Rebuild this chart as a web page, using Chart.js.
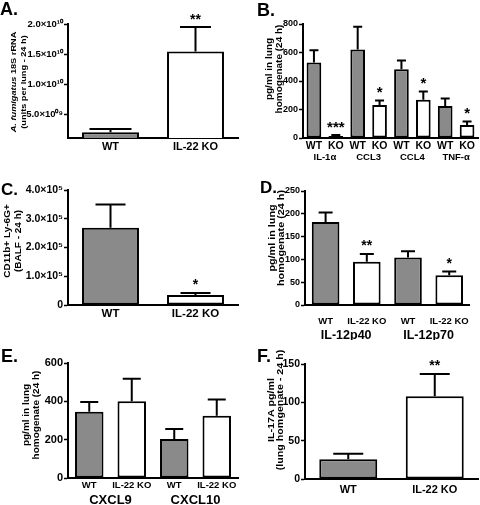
<!DOCTYPE html>
<html>
<head>
<meta charset="utf-8">
<script src="https://cdn.jsdelivr.net/npm/chart.js@4"></script>
<style>
  body { margin: 0; background: #fff; }
  #wrap { position: relative; width: 480px; height: 505px; overflow: hidden; font-family: "Liberation Sans", Arial, sans-serif; }
  canvas { position: absolute; }
  .lbl { position: absolute; font-weight: bold; line-height: 1; color: #000; }
</style>
</head>
<body>
<div id="wrap">
  <canvas id="cA" width="240" height="170" style="left:0;top:0"></canvas>
  <canvas id="cB" width="240" height="170" style="left:240px;top:0"></canvas>
  <canvas id="cC" width="240" height="170" style="left:0;top:170px"></canvas>
  <canvas id="cD" width="240" height="170" style="left:240px;top:170px"></canvas>
  <canvas id="cE" width="240" height="165" style="left:0;top:340px"></canvas>
  <canvas id="cF" width="240" height="165" style="left:240px;top:340px"></canvas>
  <div class="lbl" style="left:0;top:0;font-size:18px">A.</div>
  <div class="lbl" style="left:257px;top:1px;font-size:18px">B.</div>
  <div class="lbl" style="left:1px;top:181px;font-size:17px">C.</div>
  <div class="lbl" style="left:260px;top:179px;font-size:17px">D.</div>
  <div class="lbl" style="left:1px;top:347px;font-size:18px">E.</div>
  <div class="lbl" style="left:257px;top:347px;font-size:18px">F.</div>
</div>
<script>
const NARROW = '"Liberation Sans Narrow", "Arial Narrow", "Liberation Sans", Arial, sans-serif';
const WIDE = '"Liberation Sans", Arial, sans-serif';
Chart.defaults.font.family = NARROW;
Chart.defaults.color = "#000";

// A. fungal burden
const aCats = ["WT", "IL-22 KO"];
const aMeans = [1.95e9, 1.54e10];
const aErr = [0.55e9, 0.41e10];
const aSig = ["", "**"];
const aTickVals = [5e9, 1e10, 1.5e10, 2e10];
const aTickLabels = ["5.0×10⁰⁹", "1.0×10¹⁰", "1.5×10¹⁰", "2.0×10¹⁰"];

// B. cytokines / chemokines
const bCats = ["WT", "KO", "WT", "KO", "WT", "KO", "WT", "KO"];
const bGroups = ["IL-1α", "CCL3", "CCL4", "TNF-α"];
const bMeans = [529, 14, 621, 231, 482, 268, 224, 92];
const bErr = [87, 7, 160, 33, 62, 59, 54, 23];
const bSig = ["", "***", "", "*", "", "*", "", "*"];
const bTickVals = [0, 200, 400, 600, 800];
const bTickLabels = ["0", "200", "400", "600", "800"];

// C. neutrophils in BALF
const cCats = ["WT", "IL-22 KO"];
const cMeans = [2.69e5, 0.35e5];
const cErr = [0.81e5, 0.07e5];
const cSig = ["", "*"];
const cTickVals = [0, 1e5, 2e5, 3e5, 4e5];
const cTickLabels = ["0", "1.0×10⁵", "2.0×10⁵", "3.0×10⁵", "4.0×10⁵"];

// D. IL-12
const dCats = ["WT", "IL-22 KO", "WT", "IL-22 KO"];
const dGroups = ["IL-12p40", "IL-12p70"];
const dMeans = [182, 95, 104, 65];
const dErr = [21, 17, 14, 8.5];
const dSig = ["", "**", "", "*"];
const dTickVals = [0, 50, 100, 150, 200, 250];
const dTickLabels = ["0", "50", "100", "150", "200", "250"];

// E. CXCL9 / CXCL10
const eCats = ["WT", "IL-22 KO", "WT", "IL-22 KO"];
const eGroups = ["CXCL9", "CXCL10"];
const eMeans = [346, 400, 203, 325];
const eErr = [51, 118, 53, 84];
const eSig = ["", "", "", ""];
const eTickVals = [0, 200, 400, 600];
const eTickLabels = ["0", "200", "400", "600"];

// F. IL-17A
const fCats = ["WT", "IL-22 KO"];
const fMeans = [25.6, 108];
const fErr = [7.4, 29];
const fSig = ["", "**"];
const fTickVals = [0, 50, 100, 150];
const fTickLabels = ["0", "50", "100", "150"];

const GREY = "#8a8a8a";

// error bars, stars, group labels and the y title
const extras = {
  id: "extras",
  afterDatasetsDraw(chart, args, o) {
    const ctx = chart.ctx;
    const ys = chart.scales.y;
    const xs = chart.scales.x;
    const data = chart.data.datasets[0].data;
    ctx.save();
    ctx.strokeStyle = "#000";
    ctx.fillStyle = "#000";
    ctx.lineWidth = 2;
    chart.getDatasetMeta(0).data.forEach((bar, i) => {
      const base = ys.getPixelForValue(data[i]);
      const top = ys.getPixelForValue(data[i] + o.err[i]);
      const cw = Array.isArray(o.cap) ? o.cap[i] : o.cap;
      ctx.beginPath();
      ctx.moveTo(bar.x, base);
      ctx.lineTo(bar.x, top);
      ctx.moveTo(bar.x - cw / 2, top);
      ctx.lineTo(bar.x + cw / 2, top);
      ctx.stroke();
      if (o.sig[i]) {
        ctx.font = "bold " + o.sigSize + "px " + WIDE;
        ctx.textAlign = "center";
        ctx.textBaseline = "alphabetic";
        ctx.fillText(o.sig[i], bar.x, top - 3.5);
      }
    });
    if (o.groups) {
      ctx.font = "bold " + o.groupSize + "px " + NARROW;
      ctx.textAlign = "center";
      ctx.textBaseline = "middle";
      o.groups.forEach((g, k) => {
        const xm = (xs.getPixelForValue(2 * k) + xs.getPixelForValue(2 * k + 1)) / 2;
        ctx.fillText(g, xm, chart.chartArea.bottom + o.groupDy);
      });
    }
    // rotated y title, one entry per line, segments may be italic
    o.title.forEach((line, li) => {
      ctx.save();
      ctx.translate(o.titleX[li], o.titleY);
      ctx.scale(0.85, 1);
      ctx.rotate(-Math.PI / 2);
      ctx.textBaseline = "middle";
      ctx.textAlign = "left";
      const fontOf = seg => (seg.it ? "italic " : "") + "bold " + o.titleSize + "px " + WIDE;
      let w = 0;
      line.forEach(seg => { ctx.font = fontOf(seg); w += ctx.measureText(seg.t).width; });
      let x = -w / 2;
      line.forEach(seg => {
        ctx.font = fontOf(seg);
        ctx.fillText(seg.t, x, 0);
        x += ctx.measureText(seg.t).width;
      });
      ctx.restore();
    });
    ctx.restore();
  }
};

function panel(id, c) {
  new Chart(document.getElementById(id), {
    type: "bar",
    data: {
      labels: c.cats,
      datasets: [{
        data: c.means,
        backgroundColor: c.means.map((v, i) => (i % 2 === 0 ? GREY : "#fff")),
        borderColor: "#000",
        borderWidth: 2,
        borderSkipped: false,
        barPercentage: 0.67,
        categoryPercentage: 1
      }]
    },
    options: {
      responsive: false,
      animation: false,
      layout: { padding: { top: c.padTop, right: 2, left: 0, bottom: 0 } },
      plugins: {
        legend: { display: false },
        tooltip: { enabled: false },
        extras: {
          err: c.err, sig: c.sig, cap: c.cap, sigSize: c.sigSize || 14,
          groups: c.groups, groupSize: c.groupSize, groupDy: c.groupDy,
          title: c.title, titleX: c.titleX, titleY: c.titleY, titleSize: c.titleSize
        }
      },
      scales: {
        x: {
          offset: true,
          grid: { display: false, drawTicks: false },
          border: { color: "#000", width: 2 },
          ticks: { font: { size: c.xFont, weight: "bold" }, padding: c.xPad, maxRotation: 0, autoSkip: false },
          afterFit: s => { s.height = c.xH; }
        },
        y: {
          min: c.min,
          max: c.max,
          grid: { drawOnChartArea: false, drawTicks: true, tickLength: 4, tickWidth: 1.5, color: "#000" },
          border: { color: "#000", width: 2 },
          ticks: { font: { size: c.yFont, weight: "bold" }, padding: 1, callback: (v, i) => c.tickLabels[i] },
          afterBuildTicks: s => { s.ticks = c.tickVals.map(v => ({ value: v })); },
          afterFit: s => { s.width = c.yW; }
        }
      }
    },
    plugins: [extras]
  });
}

panel("cA", {
  cats: aCats, means: aMeans, err: aErr, sig: aSig, cap: [42, 31],
  min: 1e9, max: 2e10, tickVals: aTickVals, tickLabels: aTickLabels,
  padTop: 24, yW: 68, xH: 32, xFont: 11, xPad: 2, yFont: 9.5,
  title: [[{ t: "A. fumigatus", it: true }, { t: " 18S rRNA" }], [{ t: "(units per lung - 24 h)" }]],
  titleX: [14, 23.5], titleY: 82, titleSize: 9.2
});

panel("cB", {
  cats: bCats, means: bMeans, err: bErr, sig: bSig, cap: 9, sigSize: 15,
  groups: bGroups, groupSize: 9.5, groupDy: 19.6,
  min: 0, max: 800, tickVals: bTickVals, tickLabels: bTickLabels,
  padTop: 24, yW: 63, xH: 32, xFont: 10.5, xPad: 2, yFont: 9,
  title: [[{ t: "pg/ml in lung" }], [{ t: "homogenate (24 h)" }]],
  titleX: [30, 39.5], titleY: 69, titleSize: 10
});

panel("cC", {
  cats: cCats, means: cMeans, err: cErr, sig: cSig, cap: 30,
  min: 0, max: 4e5, tickVals: cTickVals, tickLabels: cTickLabels,
  padTop: 20, yW: 68, xH: 35, xFont: 11.5, xPad: 1.5, yFont: 10.5,
  title: [[{ t: "CD11b+ Ly-6G+" }], [{ t: "(BALF - 24 h)" }]],
  titleX: [8, 18.5], titleY: 71, titleSize: 10
});

panel("cD", {
  cats: dCats, means: dMeans, err: dErr, sig: dSig, cap: 14,
  groups: dGroups, groupSize: 12.5, groupDy: 30.4,
  min: 0, max: 250, tickVals: dTickVals, tickLabels: dTickLabels,
  padTop: 21, yW: 65, xH: 35, xFont: 9.5, xPad: 11, yFont: 9,
  title: [[{ t: "pg/ml in lung" }], [{ t: "homogenate (24 h)" }]],
  titleX: [32.5, 41], titleY: 68, titleSize: 10.8
});

panel("cE", {
  cats: eCats, means: eMeans, err: eErr, sig: eSig, cap: 18,
  groups: eGroups, groupSize: 13, groupDy: 22.4,
  min: 0, max: 600, tickVals: eTickVals, tickLabels: eTickLabels,
  padTop: 23, yW: 68, xH: 27, xFont: 9.5, xPad: 1.8, yFont: 11,
  title: [[{ t: "pg/ml in lung" }], [{ t: "homogenate (24 h)" }]],
  titleX: [27, 37], titleY: 75, titleSize: 10
});

panel("cF", {
  cats: fCats, means: fMeans, err: fErr, sig: fSig, cap: 30,
  min: 0, max: 150, tickVals: fTickVals, tickLabels: fTickLabels,
  padTop: 24, yW: 65, xH: 26, xFont: 11, xPad: 4, yFont: 10.5,
  title: [[{ t: "IL-17A pg/ml" }], [{ t: "(lung homgenate - 24 h)" }]],
  titleX: [31, 40], titleY: 70, titleSize: 10.7
});
</script>
</body>
</html>
